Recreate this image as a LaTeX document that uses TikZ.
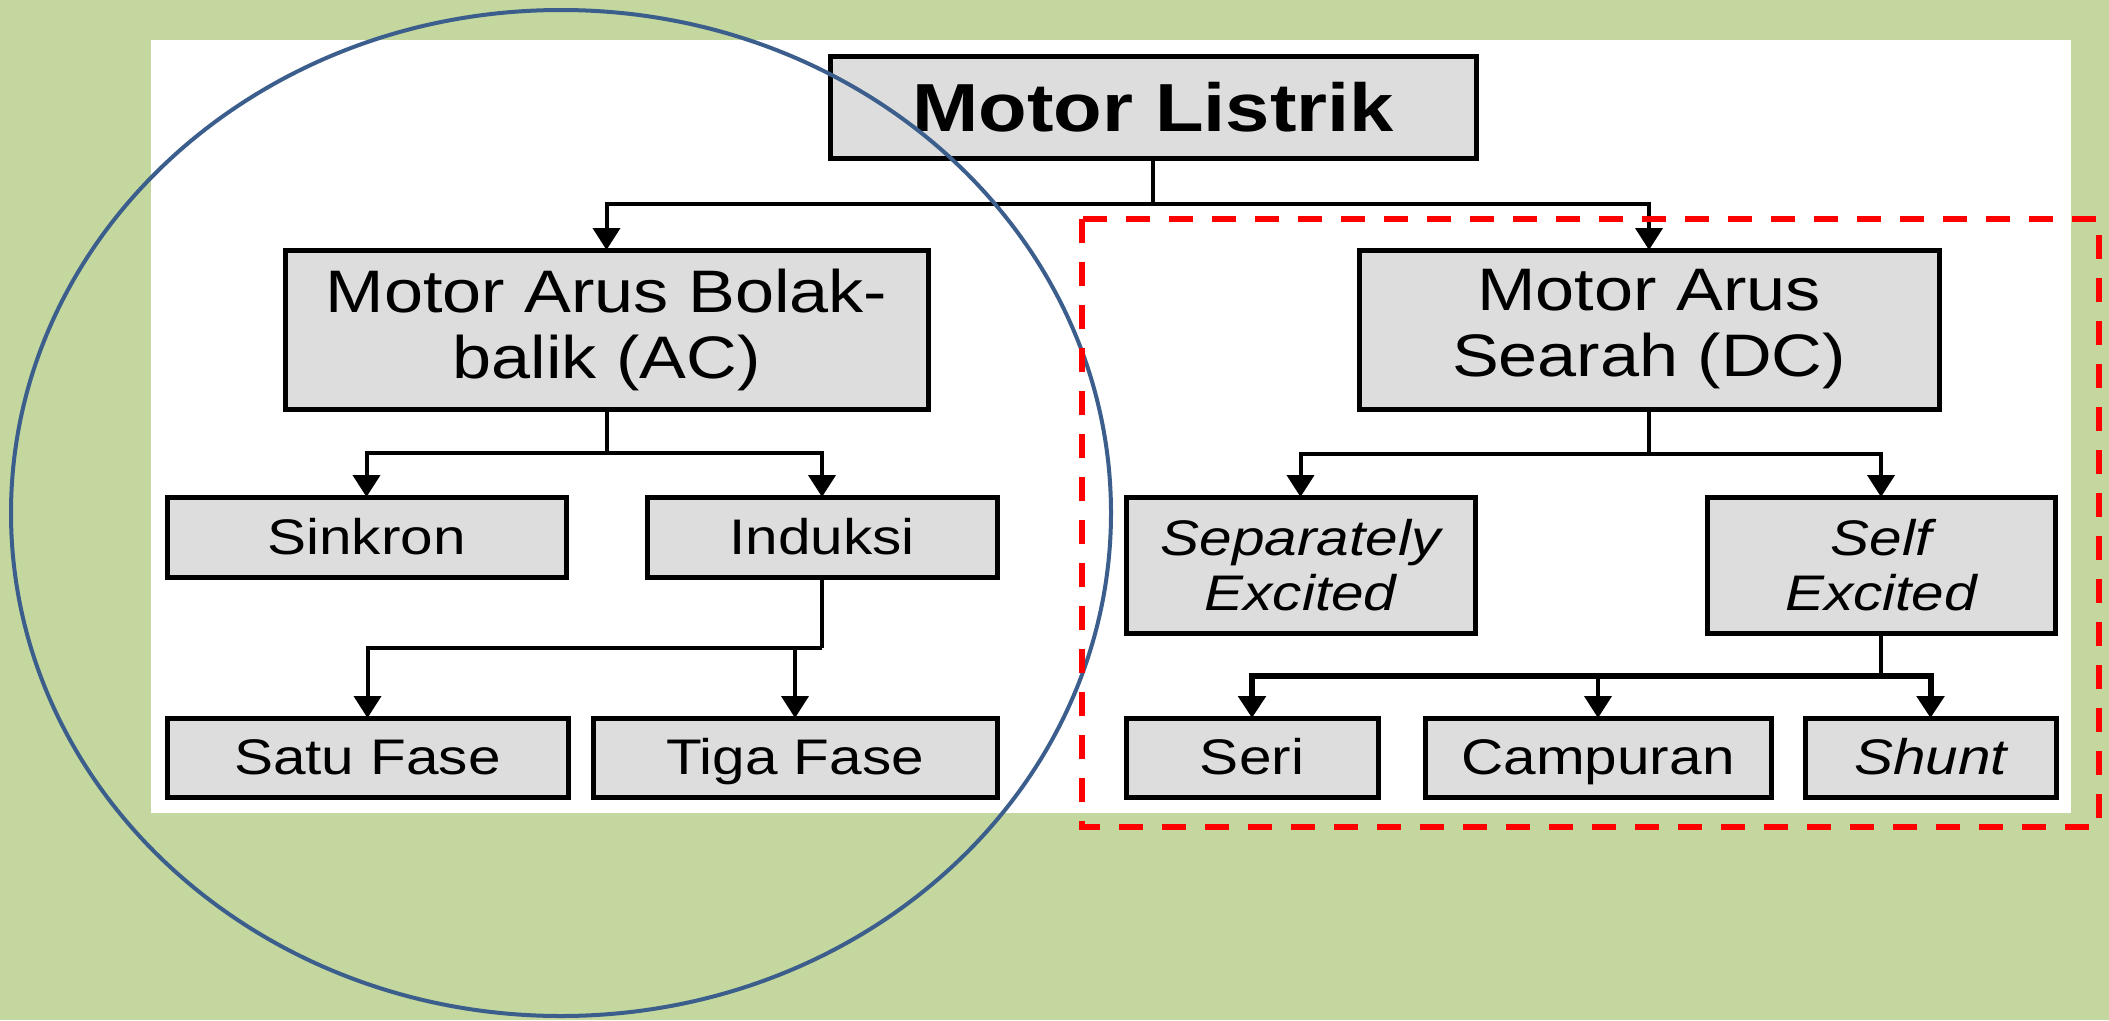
\documentclass[tikz,border=0pt]{standalone}
\usepackage{fontspec}
\setmainfont{Liberation Sans}[FakeStretch=1.17]
\usetikzlibrary{arrows.meta}
\definecolor{bggreen}{RGB}{196,215,158}
\definecolor{boxgray}{RGB}{221,221,221}
\definecolor{ellblue}{RGB}{59,94,140}
\definecolor{dashred}{RGB}{255,0,0}
\begin{document}
\begin{tikzpicture}[x=1pt,y=-1pt,
  box/.style={draw=black, fill=boxgray, line width=5pt, inner sep=0pt, outer sep=0pt, align=center},
  small/.style={box, font=\fontsize{50}{55}\selectfont, text height=34pt, text depth=0pt},
  twoline/.style={box, font=\fontsize{50}{55}\selectfont\itshape},
  big/.style={box, font=\fontsize{60}{66}\selectfont},
  conn/.style={line width=4pt, draw=black},
  arr/.style={conn, -{Triangle[length=22pt,width=27pt]}},
]
\useasboundingbox (0,0) rectangle (2109,1020);
\fill[bggreen] (0,0) rectangle (2109,1020);
\fill[white] (151,40) rectangle (2071,813);

\node[box, font=\bfseries\fontsize{68}{80}\selectfont, minimum width=646pt, minimum height=102pt] (title) at (1153,107) {Motor Listrik};
\node[big, minimum width=643pt, minimum height=159pt] (ac) at (606.5,329.5) {Motor Arus Bolak-\\balik (AC)};
\node[big, minimum width=580pt, minimum height=159pt] (dc) at (1649,329.5) {Motor Arus\\Searah (DC)};
\node[small, minimum width=399pt, minimum height=80pt] (sinkron) at (366.5,537) {Sinkron};
\node[small, minimum width=350pt, minimum height=80pt] (induksi) at (822,537) {Induksi};
\node[small, minimum width=401pt, minimum height=79pt] (satu) at (367.5,757.5) {Satu Fase};
\node[small, minimum width=404pt, minimum height=79pt] (tiga) at (795,757.5) {Tiga Fase};
\node[twoline, minimum width=349pt, minimum height=136pt] (sep) at (1300.5,565) {Separately\\Excited};
\node[twoline, minimum width=348pt, minimum height=136pt] (self) at (1881,565) {Self\\Excited};
\node[small, minimum width=252pt, minimum height=79pt] (seri) at (1252,757.5) {Seri};
\node[small, minimum width=346pt, minimum height=79pt] (camp) at (1598,757.5) {Campuran};
\node[small, font=\fontsize{50}{55}\selectfont\itshape, minimum width=251pt, minimum height=79pt] (shunt) at (1930.5,757.5) {Shunt};

\coordinate (b0) at (1153,204);
\draw[conn] (title.south) -- (b0);
\draw[arr] (b0) -| (ac.north);
\draw[arr] (b0) -| (dc.north);

\coordinate (b1) at (606.5,453);
\draw[conn] (ac.south) -- (b1);
\draw[arr] (b1) -| (sinkron.north);
\draw[arr] (b1) -| (induksi.north);

\coordinate (b2) at (822,648);
\draw[conn] (induksi.south) -- (b2);
\draw[arr] (b2) -| (satu.north);
\draw[arr] (b2) -| (tiga.north);

\coordinate (b3) at (1649,454);
\draw[conn] (dc.south) -- (b3);
\draw[arr] (b3) -| (sep.north);
\draw[arr] (b3) -| (self.north);

\coordinate (b4) at (1881,676);
\draw[conn] (self.south) -- (b4);
\draw[arr, line width=6pt] (b4) -| (seri.north);
\draw[arr] (b4) -| (camp.north);
\draw[arr, line width=6pt] (b4) -| (shunt.north);

\draw[ellblue, line width=4pt] (561,513) ellipse [x radius=550pt, y radius=503pt];
\draw[dashred, line width=6pt, dash pattern=on 24pt off 19pt] (1082,219) rectangle (2099,827);
\end{tikzpicture}
\end{document}
